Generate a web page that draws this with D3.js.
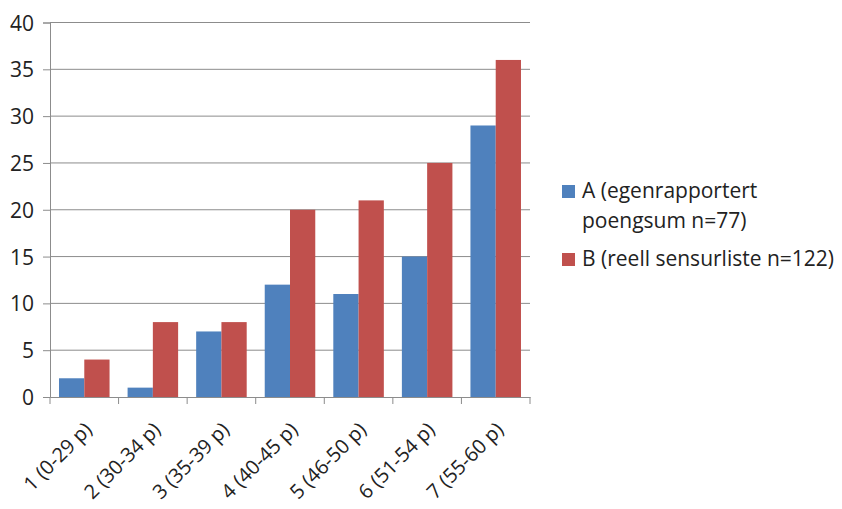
<!DOCTYPE html>
<html>
<head>
<meta charset="utf-8">
<script src="https://cdn.jsdelivr.net/npm/d3@7"></script>
<style>
  html, body { margin: 0; padding: 0; background: #fff; }
  svg { display: block; }
  text { font-family: "Open Sans", "Liberation Sans", sans-serif; fill: #222; }
</style>
</head>
<body>
<svg id="chart" width="842" height="509"></svg>
<script>
// Score groups and counts for the two sources
const categories = ["1 (0-29 p)", "2 (30-34 p)", "3 (35-39 p)", "4 (40-45 p)", "5 (46-50 p)", "6 (51-54 p)", "7 (55-60 p)"];
const seriesNames = ["A (egenrapportert poengsum n=77)", "B (reell sensurliste n=122)"];
const seriesA = [2, 1, 7, 12, 11, 15, 29];
const seriesB = [4, 8, 8, 20, 21, 25, 36];
const yTicks = [0, 5, 10, 15, 20, 25, 30, 35, 40];
const colors = ["#4F81BD", "#C0504D"];

const rows = categories.map((c, i) => ({ cat: c, values: [seriesA[i], seriesB[i]] }));

const svg = d3.select("#chart");
const plotLeft = 50, plotRight = 530, plotTop = 22.5, plotBottom = 397;

const x0 = d3.scaleBand().domain(categories).range([plotLeft, plotRight]).paddingInner(0).paddingOuter(0);
const x1 = d3.scaleBand().domain([0, 1]).range([0, x0.bandwidth()]).paddingOuter(0.357).paddingInner(0);
const y = d3.scaleLinear().domain([0, 40]).range([plotBottom, plotTop]);

// Horizontal gridlines
svg.append("g")
  .selectAll("line")
  .data(yTicks.filter(t => t > 0))
  .join("line")
  .attr("x1", plotLeft).attr("x2", plotRight)
  .attr("y1", d => y(d)).attr("y2", d => y(d))
  .attr("stroke", "#8c8c8c").attr("stroke-width", 1);

// Bars
svg.append("g")
  .selectAll("g")
  .data(rows)
  .join("g")
  .attr("transform", d => `translate(${x0(d.cat)},0)`)
  .selectAll("rect")
  .data(d => d.values.map((v, k) => ({ v, k })))
  .join("rect")
  .attr("x", d => x1(d.k))
  .attr("width", x1.bandwidth())
  .attr("y", d => y(d.v))
  .attr("height", d => y(0) - y(d.v))
  .attr("fill", d => colors[d.k]);

// Y axis
const yAxis = svg.append("g")
  .attr("transform", `translate(${plotLeft},0)`)
  .call(d3.axisLeft(y).tickValues(yTicks).tickSize(7).tickPadding(9));
yAxis.select(".domain").attr("stroke", "#8c8c8c");
yAxis.selectAll(".tick line").attr("stroke", "#8c8c8c");
yAxis.selectAll("text").style("font-size", "21px").attr("fill", "#222").attr("dy", "0.36em");

// X axis
const xAxis = svg.append("g")
  .attr("transform", `translate(0,${plotBottom})`)
  .call(d3.axisBottom(x0).tickSize(0).tickFormat(""));
xAxis.select(".domain").attr("stroke", "#8c8c8c");
// Category boundary ticks
xAxis.append("g")
  .selectAll("line")
  .data(d3.range(categories.length + 1))
  .join("line")
  .attr("x1", i => plotLeft + i * x0.step()).attr("x2", i => plotLeft + i * x0.step())
  .attr("y1", 0).attr("y2", 7)
  .attr("stroke", "#8c8c8c");
// Rotated category labels
xAxis.append("g")
  .selectAll("text")
  .data(categories)
  .join("text")
  .attr("transform", d => `translate(${x0(d) + x0.bandwidth() / 2 - 1},${24}) rotate(-45)`)
  .attr("text-anchor", "end")
  .attr("dy", "0.7em")
  .style("font-size", "20px")
  .text(d => d);

// Legend
const legend = svg.append("g");
const legendItems = [
  { lines: ["A (egenrapportert", "poengsum n=77)"], color: colors[0], y: 198 },
  { lines: ["B (reell sensurliste n=122)"], color: colors[1], y: 266 }
];
legendItems.forEach(item => {
  legend.append("rect")
    .attr("x", 562).attr("y", item.y - 13)
    .attr("width", 13).attr("height", 13)
    .attr("fill", item.color);
  item.lines.forEach((ln, j) => {
    legend.append("text")
      .attr("x", 582).attr("y", item.y + j * 30)
      .style("font-size", "21px")
      .text(ln);
  });
});
</script>
</body>
</html>
